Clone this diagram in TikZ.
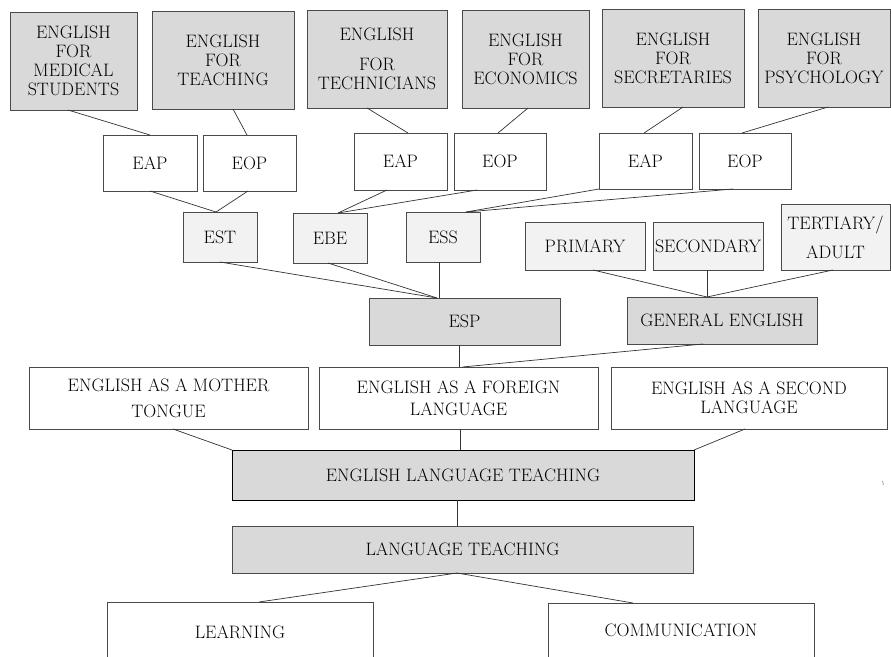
\documentclass[tikz,border=0pt]{standalone}
\usetikzlibrary{calc}
\definecolor{grayA}{HTML}{D9D9D9}
\definecolor{grayB}{HTML}{F2F2F2}
\definecolor{bordc}{HTML}{4A4A4A}
\definecolor{connc}{HTML}{333333}
\newcommand\boxfont{\fontsize{18}{19}\selectfont}
\tikzset{
  base/.style={draw=bordc, line width=0.9pt, inner sep=0pt, outer sep=0pt, align=center, font=\boxfont},
  darkbox/.style={base, fill=grayA},
  lightbox/.style={base, fill=grayB},
  whitebox/.style={base, fill=white},
  conn/.style={draw=connc, line width=0.7pt},
}
\begin{document}
\begin{tikzpicture}[x=1pt,y=-1pt]
\useasboundingbox (0,0) rectangle (891,656);
\clip (0,0) rectangle (891,656);
\fill[white] (0,0) rectangle (891,656);

% top row
\node[darkbox, minimum width=127pt, minimum height=98pt] (med) at (73.5,61) {ENGLISH\\FOR\\MEDICAL\\STUDENTS};
\node[darkbox, minimum width=142pt, minimum height=98pt] (teach) at (223,60) {ENGLISH\\FOR\\TEACHING};
\node[darkbox, minimum width=140pt, minimum height=98pt] (tech) at (377,59) {ENGLISH\\[11pt]FOR\\TECHNICIANS};
\node[darkbox, minimum width=127pt, minimum height=98pt] (econ) at (525.5,59) {ENGLISH\\FOR\\ECONOMICS};
\node[darkbox, minimum width=142pt, minimum height=98pt] (secr) at (673,58) {ENGLISH\\FOR\\SECRETARIES};
\node[darkbox, minimum width=132pt, minimum height=98pt] (psych) at (824,58) {ENGLISH\\FOR\\PSYCHOLOGY};

% second row
\node[whitebox, minimum width=94pt, minimum height=56pt] (eap1) at (150,163) {EAP};
\node[whitebox, minimum width=93pt, minimum height=56pt] (eop1) at (249.5,163) {EOP};
\node[whitebox, minimum width=93pt, minimum height=57pt] (eap2) at (400.5,161.5) {EAP};
\node[whitebox, minimum width=92pt, minimum height=57pt] (eop2) at (500,161.5) {EOP};
\node[whitebox, minimum width=93pt, minimum height=56pt] (eap3) at (645.5,161) {EAP};
\node[whitebox, minimum width=92pt, minimum height=56pt] (eop3) at (745,161) {EOP};

% third row
\node[lightbox, minimum width=74pt, minimum height=50pt] (est) at (220,237) {EST};
\node[lightbox, minimum width=74pt, minimum height=50pt] (ebe) at (330,238) {EBE};
\node[lightbox, minimum width=74pt, minimum height=50pt] (ess) at (443,237) {ESS};
\node[lightbox, minimum width=120pt, minimum height=48pt] (prim) at (585,246) {PRIMARY};
\node[lightbox, minimum width=110pt, minimum height=48pt] (sec) at (708,246) {SECONDARY};
\node[lightbox, minimum width=109pt, minimum height=66pt] (tert) at (835.5,237) {TERTIARY/\\[10pt]ADULT};

% fourth row
\node[darkbox, minimum width=191pt, minimum height=47pt] (esp) at (464.5,321.5) {ESP};
\node[darkbox, minimum width=190pt, minimum height=47pt] (ge) at (722,320.5) {GENERAL ENGLISH};

% fifth row
\node[whitebox, minimum width=279pt, minimum height=62pt] (mother) at (168.5,398) {ENGLISH AS A MOTHER\\[7pt]TONGUE};
\node[whitebox, minimum width=279pt, minimum height=62pt] (foreign) at (458.5,398) {ENGLISH AS A FOREIGN\\[3pt]LANGUAGE};
\node[whitebox, minimum width=276pt, minimum height=62pt] (second) at (749,398) {ENGLISH AS A SECOND\\LANGUAGE};

% lower
\node[darkbox, draw=black, minimum width=462pt, minimum height=50pt] (elt) at (463,475) {ENGLISH LANGUAGE TEACHING};
\node[darkbox, minimum width=461pt, minimum height=47pt] (lt) at (462.5,549.5) {LANGUAGE TEACHING};
\node[whitebox, minimum width=266pt, minimum height=60pt] (learn) at (240,632) {LEARNING};
\node[whitebox, minimum width=266pt, minimum height=54pt] (comm) at (681,630) {COMMUNICATION};

% connectors top -> second row
\draw[conn] ([xshift=-5.5pt]med.south) -- (eap1.north);
\draw[conn] ([xshift=10pt]teach.south) -- ([xshift=-2.5pt]eop1.north);
\draw[conn] ([xshift=-10pt]tech.south) -- ([xshift=7.5pt]eap2.north);
\draw[conn] ([xshift=2.5pt]econ.south) -- ([xshift=-2pt]eop2.north);
\draw[conn] ([xshift=10pt]secr.south) -- ([xshift=-1.5pt]eap3.north);
\draw[conn] ([xshift=4pt]psych.south) -- ([xshift=-3pt]eop3.north);

% second row -> third row
\draw[conn] (eap1.south) -- ([xshift=-4pt]est.north);
\draw[conn] ([xshift=-1.5pt]eop1.south) -- ([xshift=-4pt]est.north);
\draw[conn] ([xshift=-13.5pt]eap2.south) -- ([xshift=8pt]ebe.north);
\draw[conn] ([xshift=-23pt]eop2.south) -- ([xshift=8pt]ebe.north);
\draw[conn] (eap3.south west) -- ([xshift=23pt]ess.north);
\draw[conn] ([xshift=-12pt]eop3.south) -- ([xshift=23pt]ess.north);

% third row -> ESP / GENERAL ENGLISH
\draw[conn] (est.south) -- ([xshift=-27.5pt]esp.north);
\draw[conn] ([xshift=-2pt]ebe.south) -- ([xshift=-27.5pt]esp.north);
\draw[conn] ([xshift=-4pt]ess.south) -- ([xshift=-25.5pt]esp.north);
\draw[conn] ([xshift=8pt]prim.south) -- ([xshift=-15pt]ge.north);
\draw[conn] ([xshift=-1pt]sec.south) -- ([xshift=-15pt]ge.north);
\draw[conn] ([xshift=-2.5pt]tert.south) -- ([xshift=-15pt]ge.north);

% ESP / GE -> foreign
\draw[conn] ([xshift=-5.5pt]esp.south) -- ([xshift=0.5pt]foreign.north);
\draw[conn] ([xshift=-19pt]ge.south) -- ([xshift=4pt]foreign.north);

% fifth row -> ELT
\draw[conn] ([xshift=4.5pt]mother.south) -- (elt.north west);
\draw[conn] ([xshift=1.5pt]foreign.south) -- ([xshift=-3pt]elt.north);
\draw[conn] ([xshift=-4pt]second.south) -- (elt.north east);

% ELT -> LT -> bottom
\draw[conn] ([xshift=-6pt]elt.south) -- ([xshift=-5.5pt]lt.north);
\draw[conn] ([xshift=-5.5pt]lt.south) -- ([xshift=19pt]learn.north);
\draw[conn] ([xshift=-5.5pt]lt.south) -- ([xshift=-48pt]comm.north);

% stray mark
\draw[draw=gray, line width=0.6pt] (882.6,481) -- (883.4,485);
\end{tikzpicture}
\end{document}
